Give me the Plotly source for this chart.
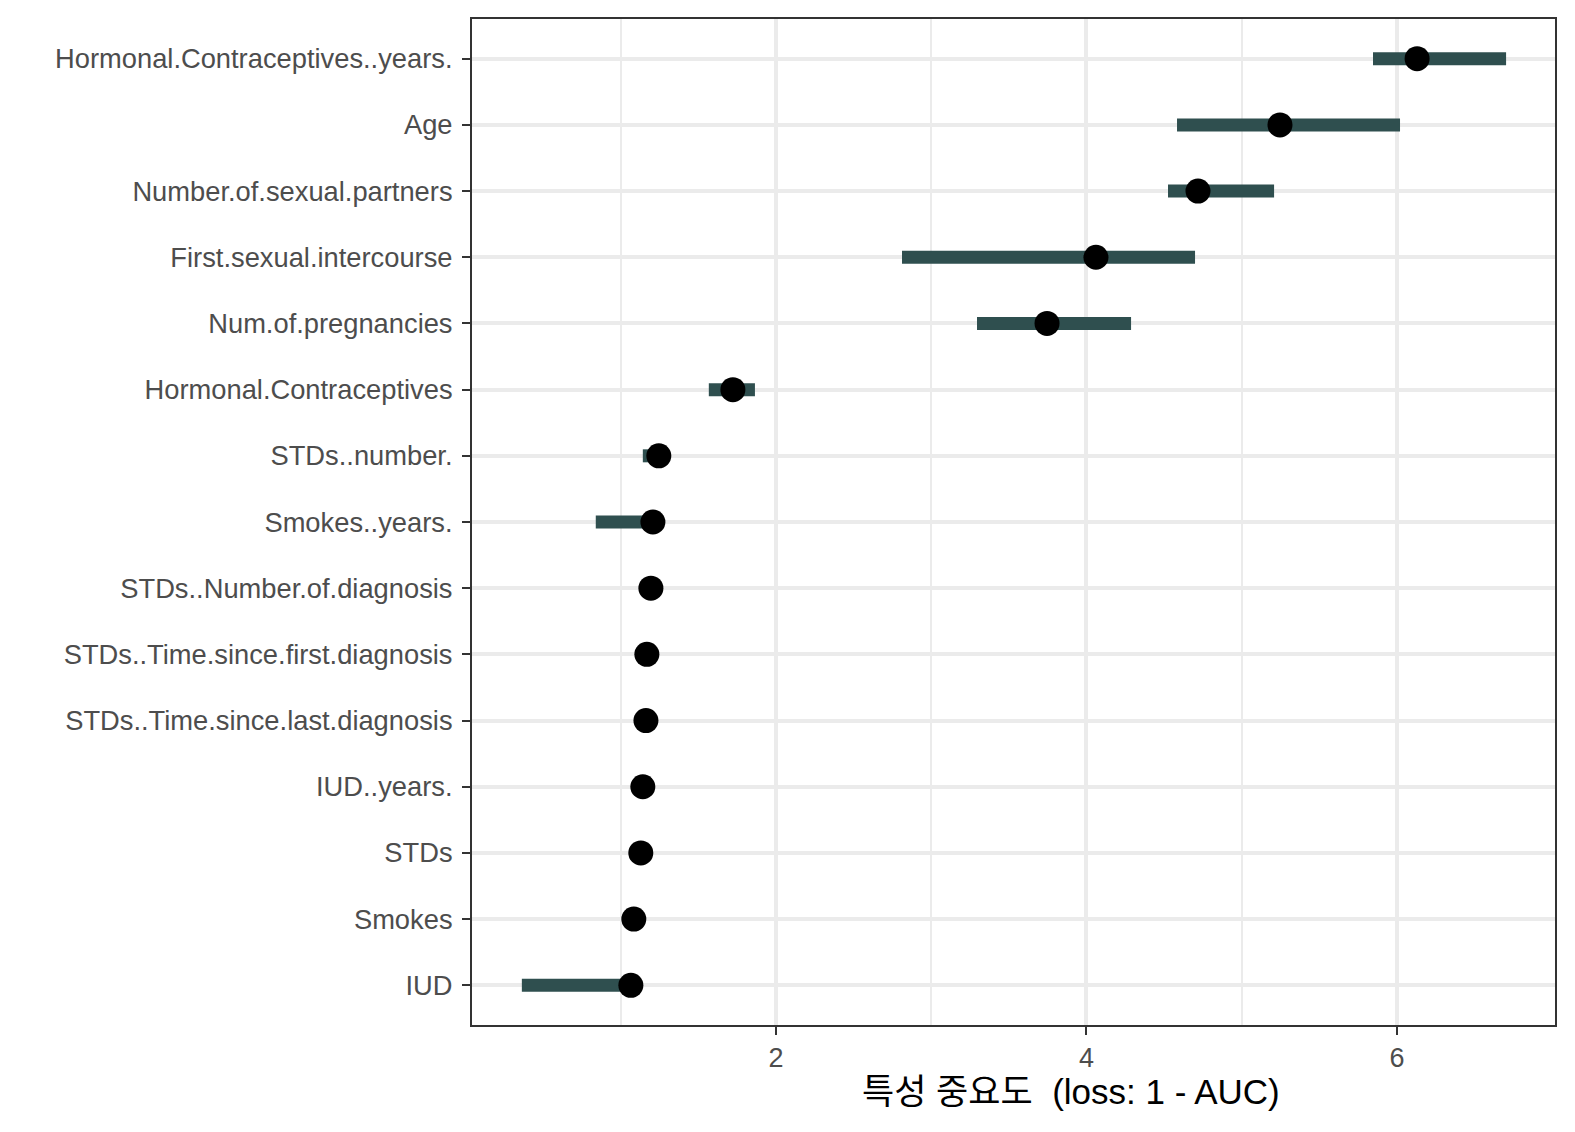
import plotly.graph_objects as go

# feature importance (loss: 1 - AUC), bottom to top
features = [
    "IUD", "Smokes", "STDs", "IUD..years.",
    "STDs..Time.since.last.diagnosis", "STDs..Time.since.first.diagnosis",
    "STDs..Number.of.diagnosis", "Smokes..years.", "STDs..number.",
    "Hormonal.Contraceptives", "Num.of.pregnancies",
    "First.sexual.intercourse", "Number.of.sexual.partners", "Age",
    "Hormonal.Contraceptives..years.",
]
importance = [1.066, 1.085, 1.130, 1.143, 1.163, 1.169, 1.195, 1.208, 1.246,
              1.723, 3.746, 4.061, 4.718, 5.246, 6.129]
imp_low = [0.364, 1.085, 1.130, 1.143, 1.163, 1.169, 1.195, 0.840, 1.143,
           1.568, 3.295, 2.812, 4.525, 4.583, 5.845]
imp_high = [1.066, 1.085, 1.130, 1.143, 1.163, 1.169, 1.195, 1.208, 1.246,
            1.865, 4.287, 4.699, 5.208, 6.019, 6.702]

x_ticks = [2, 4, 6]
x_minor = [1, 3, 5]

TEXT_FONT = "Liberation Sans, Arial, sans-serif"
GRID = "#EBEBEB"

# segments from low to high, joined by None gaps
seg_x, seg_y = [], []
for f, lo, hi in zip(features, imp_low, imp_high):
    seg_x += [lo, hi, None]
    seg_y += [f, f, None]

fig = go.Figure()
fig.add_trace(go.Scatter(
    x=seg_x, y=seg_y, mode="lines",
    line=dict(color="#2F4F4F", width=13),
    hoverinfo="skip", showlegend=False,
))
fig.add_trace(go.Scatter(
    x=importance, y=features, mode="markers",
    marker=dict(color="black", size=25, line=dict(width=0)),
    showlegend=False,
))

fig.update_layout(
    width=1575, height=1132,
    # page body adds a small offset, margins compensate
    margin=dict(l=464, r=28, t=9, b=115),
    paper_bgcolor="white", plot_bgcolor="white",
    showlegend=False,
    font=dict(family=TEXT_FONT, color="#4D4D4D", size=27),
)
fig.update_xaxes(
    range=[0.043, 7.017],
    tickvals=x_ticks, ticktext=[str(v) for v in x_ticks],
    tickfont=dict(size=27, color="#4D4D4D"),
    ticks="outside", ticklen=8, tickwidth=2, tickcolor="#333333",
    ticklabelstandoff=0,
    showgrid=True, gridcolor=GRID, gridwidth=4,
    minor=dict(tickvals=x_minor, showgrid=True, gridcolor=GRID, gridwidth=2, ticks=""),
    showline=True, mirror=True, linecolor="#333333", linewidth=2,
    zeroline=False,
)
fig.update_yaxes(
    type="category", categoryorder="array", categoryarray=features,
    range=[-0.6, len(features) - 0.4],
    tickfont=dict(size=27.3, color="#4D4D4D"),
    ticks="outside", ticklen=8, tickwidth=2, tickcolor="#333333",
    ticklabelstandoff=4,
    showgrid=True, gridcolor=GRID, gridwidth=4,
    showline=True, mirror=True, linecolor="#333333", linewidth=2,
    zeroline=False,
)

# x title (sits a little right of panel centre in the original)
fig.add_annotation(
    text="특성 중요도  (loss: 1 - AUC)",
    xref="paper", yref="paper", x=0.553, y=-0.066,
    xanchor="center", yanchor="middle", showarrow=False,
    font=dict(family="Liberation Sans, Noto Sans CJK KR, sans-serif", size=35, color="black"),
)

fig.write_html("out.html")
